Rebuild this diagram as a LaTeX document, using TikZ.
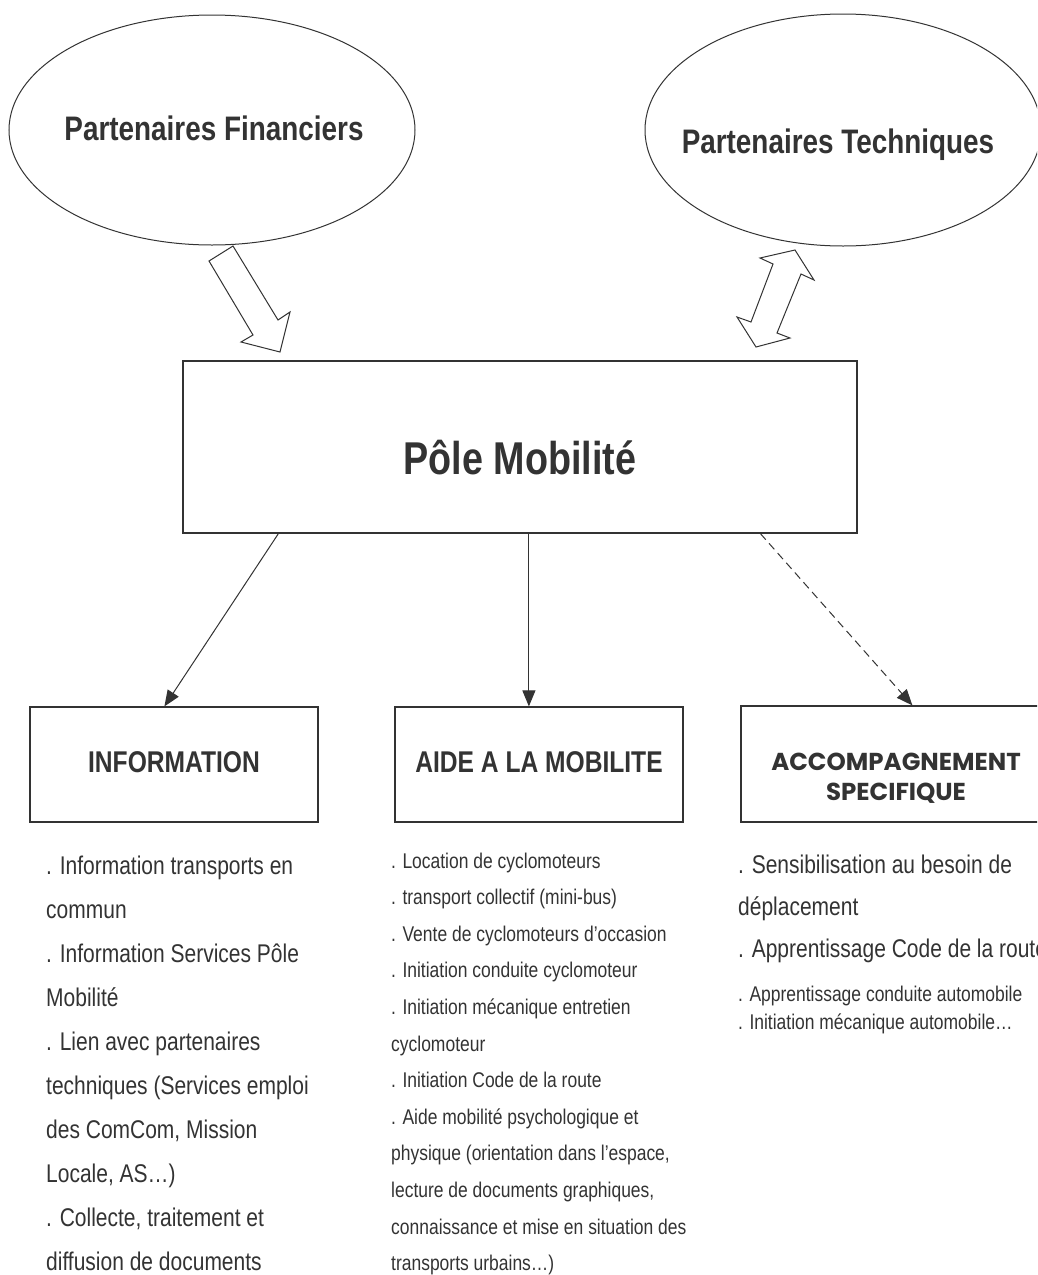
\documentclass[tikz,border=0pt]{standalone}
\usepackage{fontspec}
\setmainfont{Liberation Sans}[FakeStretch=0.82]
\newfontfamily\gothic{Poppins}
\usetikzlibrary{shapes.geometric,arrows.meta,calc}
\definecolor{ink}{HTML}{333333}
\tikzset{
  box/.style={draw=ink, line width=1.2pt, rectangle, inner sep=0pt},
  oval/.style={draw=ink, line width=1pt, ellipse, inner sep=0pt},
  fat/.style={draw=ink, line width=1pt, line join=miter, fill=white},
  link/.style={draw=ink, line width=1pt, -{Triangle[length=16pt,width=13pt]}},
  dashlink/.style={link, dash pattern=on 8pt off 5pt},
  title/.style={text=ink, anchor=base, inner sep=0pt},
  head/.style={text=ink, anchor=base, inner sep=0pt, font=\bfseries\fontsize{30}{34}\selectfont},
  gothichead/.style={text=ink, anchor=base, inner sep=0pt, font=\gothic\bfseries\fontsize{24.5}{28}\selectfont},
  body/.style={text=ink, anchor=base west, inner sep=0pt, font=\fontsize{25.6}{30}\selectfont},
  small/.style={text=ink, anchor=base west, inner sep=0pt, font=\fontsize{21.3}{25}\selectfont},
}
\begin{document}
\begin{tikzpicture}[x=1pt,y=-1pt]
\clip (0,0) rectangle (1037,1275);
\fill[white] (0,0) rectangle (1037,1275);

% partner ellipses
\node[oval, minimum width=406pt, minimum height=230pt] (fin) at (212,130) {};
\node[oval, minimum width=396pt, minimum height=232pt] (tech) at (843,130) {};
\node[title, font=\bfseries\fontsize{34}{40}\selectfont] (finlabel) at (214,140) {Partenaires Financiers};
\node[title, font=\bfseries\fontsize{34}{40}\selectfont] (techlabel) at (838,153) {Partenaires Techniques};

% fat arrows
\draw[fat] (209,261) -- (233,246) -- (278,320) -- (290,312) -- (280,352) -- (241,342) -- (253,335) -- cycle;
\draw[fat] (795,250) -- (814,280) -- (801,274) -- (777,333) -- (790,338) -- (756,347) -- (737,317) -- (751,322) -- (773,264) -- (760,258) -- cycle;

% central box
\node[box, minimum width=674pt, minimum height=172pt] (main) at (520,447) {};
\node[title, font=\bfseries\fontsize{46}{52}\selectfont] (mainlabel) at (520,474) {Pôle Mobilité};

% section boxes
\node[box, minimum width=288pt, minimum height=115pt] (info) at (174,764.5) {};
\node[box, minimum width=288pt, minimum height=115pt] (aide) at (539,764.5) {};
\node[box, minimum width=308pt, minimum height=116pt] (acc) at (895,764) {};
\node[head] (infolabel) at (174,772) {INFORMATION};
\node[head] (aidelabel) at (539,772) {AIDE A LA MOBILITE};
\node[gothichead] (acclabelA) at (896,770) {ACCOMPAGNEMENT};
\node[gothichead] (acclabelB) at (896,800) {SPECIFIQUE};

% connectors
\draw[link] ([xshift=96pt]main.south west) -- ([xshift=135pt]info.north west);
\draw[link] ([xshift=346.5pt]main.south west) -- ([xshift=134.5pt]aide.north west);
\draw[dashlink] ([xshift=578pt]main.south west) -- ([xshift=172pt]acc.north west);

% INFORMATION column
\node[body] (i1) at (46,874) {. Information transports en};
\node[body] (i2) at (46,918) {commun};
\node[body] (i3) at (46,962) {. Information Services Pôle};
\node[body] (i4) at (46,1006) {Mobilité};
\node[body] (i5) at (46,1050) {. Lien avec partenaires};
\node[body] (i6) at (46,1094) {techniques (Services emploi};
\node[body] (i7) at (46,1138) {des ComCom, Mission};
\node[body] (i8) at (46,1182) {Locale, AS…)};
\node[body] (i9) at (46,1226) {. Collecte, traitement et};
\node[body] (i10) at (46,1270) {diffusion de documents};

% AIDE column
\node[small] (a1) at (391,868) {. Location de cyclomoteurs};
\node[small] (a2) at (391,904.6) {. transport collectif (mini-bus)};
\node[small] (a3) at (391,941.2) {. Vente de cyclomoteurs d’occasion};
\node[small] (a4) at (391,977.8) {. Initiation conduite cyclomoteur};
\node[small] (a5) at (391,1014.4) {. Initiation mécanique entretien};
\node[small] (a6) at (391,1051) {cyclomoteur};
\node[small] (a7) at (391,1087.6) {. Initiation Code de la route};
\node[small] (a8) at (391,1124.2) {. Aide mobilité psychologique et};
\node[small] (a9) at (391,1160.8) {physique (orientation dans l’espace,};
\node[small] (a10) at (391,1197.4) {lecture de documents graphiques,};
\node[small] (a11) at (391,1234) {connaissance et mise en situation des};
\node[small] (a12) at (391,1270.6) {transports urbains…)};

% ACCOMPAGNEMENT column
\node[body] (c1) at (738,873) {. Sensibilisation au besoin de};
\node[body] (c2) at (738,915) {déplacement};
\node[body] (c3) at (738,957) {. Apprentissage Code de la route};
\node[small] (c4) at (738,1001) {. Apprentissage conduite automobile};
\node[small] (c5) at (738,1029) {. Initiation mécanique automobile…};
\end{tikzpicture}
\end{document}
